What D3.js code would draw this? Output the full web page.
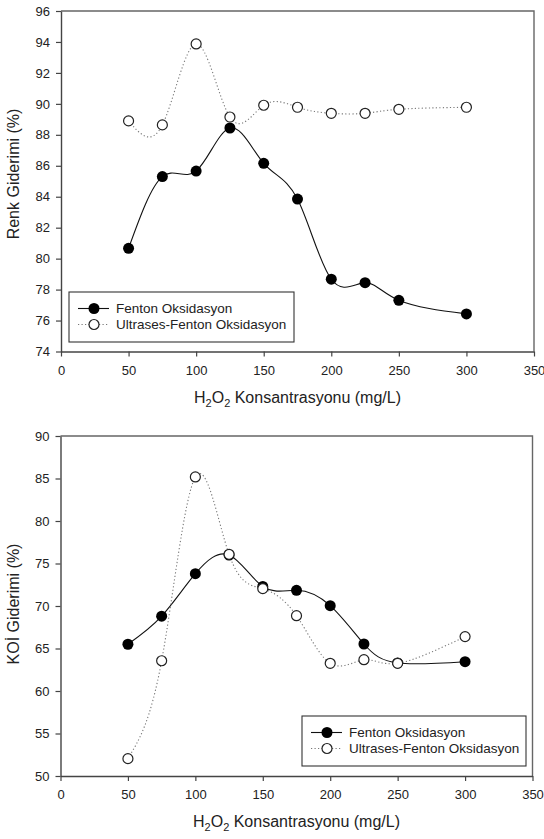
<!DOCTYPE html>
<html>
<head>
<meta charset="utf-8">
<script src="https://cdn.jsdelivr.net/npm/d3@7"></script>
<style>
  html, body { margin: 0; padding: 0; background: #fff; }
  svg { display: block; font-family: "Liberation Sans", Arial, sans-serif; }
</style>
</head>
<body>
<svg id="chart" width="544" height="839"></svg>
<script>
// H2O2 concentrations (mg/L)
const concentrations = [50, 75, 100, 125, 150, 175, 200, 225, 250, 300];

// Renk giderimi (%)
const renkFenton   = [80.67, 85.3, 85.66, 88.44, 86.16, 83.85, 78.67, 78.45, 77.31, 76.43];
const renkUltrases = [88.9, 88.64, 93.87, 89.15, 89.91, 89.78, 89.39, 89.39, 89.65, 89.78];

// KOİ giderimi (%)
const koiFenton   = [65.5, 68.8, 73.8, 76.0, 72.3, 71.85, 70.04, 65.53, 63.3, 63.45];
const koiUltrases = [52.04, 63.56, 85.18, 76.08, 72.04, 68.86, 63.26, 63.68, 63.26, 66.4];

const xTicks = [0, 50, 100, 150, 200, 250, 300, 350];
const renkTicks = d3.range(74, 97, 2);
const koiTicks = d3.range(50, 91, 5);

const seriesNames = ["Fenton Oksidasyon", "Ultrases-Fenton Oksidasyon"];

const svg = d3.select('#chart');

function drawPanel(cfg) {
    const x = d3.scaleLinear().domain([0, 350]).range([cfg.left, cfg.right]);
    const y = d3.scaleLinear().domain(cfg.yDomain).range([cfg.bottom, cfg.top]);
    const g = svg.append('g');

    // frame (top / right)
    g.append('path')
        .attr('d', `M${cfg.left},${cfg.top}H${cfg.right}V${cfg.bottom}`)
        .attr('fill', 'none')
        .attr('stroke', '#666')
        .attr('stroke-width', 1.4);

    // axes
    const xAxis = g.append('g')
        .attr('transform', `translate(0,${cfg.bottom})`)
        .call(d3.axisBottom(x).tickValues(xTicks).tickSize(5).tickPadding(9).tickSizeOuter(0));
    const yAxis = g.append('g')
        .attr('transform', `translate(${cfg.left},0)`)
        .call(d3.axisLeft(y).tickValues(cfg.yTicks).tickSize(5).tickPadding(6).tickSizeOuter(0));
    [xAxis, yAxis].forEach(a => {
        a.select('.domain').attr('stroke', '#444').attr('stroke-width', 1.4);
        a.selectAll('.tick line').attr('stroke', '#444').attr('stroke-width', 1.2);
        a.selectAll('.tick text')
            .attr('fill', '#222')
            .attr('font-size', '13px')
            .attr('font-family', '"Liberation Sans", Arial, sans-serif');
    });

    // axis titles
    const xt = g.append('text')
        .attr('x', (cfg.left + cfg.right) / 2)
        .attr('y', cfg.bottom + 51)
        .attr('text-anchor', 'middle')
        .attr('font-size', '16px')
        .attr('fill', '#222');
    xt.append('tspan').text('H');
    xt.append('tspan').text('2').attr('font-size', '11px').attr('dy', 4);
    xt.append('tspan').text('O').attr('dy', -4);
    xt.append('tspan').text('2').attr('font-size', '11px').attr('dy', 4);
    xt.append('tspan').text(' Konsantrasyonu (mg/L)').attr('dy', -4);

    g.append('text')
        .attr('transform', `translate(${cfg.yTitleX},${cfg.yTitleY}) rotate(-90)`)
        .attr('text-anchor', 'middle')
        .attr('font-size', '16px')
        .attr('fill', '#222')
        .text(cfg.yTitle);

    const line = d3.line()
        .x((d, i) => x(concentrations[i]))
        .y(d => y(d))
        .curve(d3.curveNatural);

    // Fenton: solid line, filled markers
    g.append('path')
        .datum(cfg.fenton)
        .attr('d', line)
        .attr('fill', 'none')
        .attr('stroke', '#111')
        .attr('stroke-width', 1.1);
    // Ultrases: dotted line, open markers
    g.append('path')
        .datum(cfg.ultrases)
        .attr('d', line)
        .attr('fill', 'none')
        .attr('stroke', '#777')
        .attr('stroke-width', 1.1)
        .attr('stroke-dasharray', '1.2,2.3');

    g.append('g').selectAll('circle')
        .data(cfg.fenton)
        .join('circle')
        .attr('cx', (d, i) => x(concentrations[i]))
        .attr('cy', d => y(d))
        .attr('r', 5.5)
        .attr('fill', '#000');
    g.append('g').selectAll('circle')
        .data(cfg.ultrases)
        .join('circle')
        .attr('cx', (d, i) => x(concentrations[i]))
        .attr('cy', d => y(d))
        .attr('r', 5)
        .attr('fill', '#fff')
        .attr('stroke', '#222')
        .attr('stroke-width', 1.2);

    // legend
    const lg = g.append('g').attr('transform', `translate(${cfg.legend[0]},${cfg.legend[1]})`);
    lg.append('rect')
        .attr('width', cfg.legend[2])
        .attr('height', 50)
        .attr('fill', '#fff')
        .attr('stroke', '#333')
        .attr('stroke-width', 1.1);
    seriesNames.forEach((name, i) => {
        const row = lg.append('g').attr('transform', `translate(0,${16.5 + i * 16})`);
        row.append('line')
            .attr('x1', 9).attr('x2', 40)
            .attr('stroke', i === 0 ? '#111' : '#777')
            .attr('stroke-width', 1.1)
            .attr('stroke-dasharray', i === 0 ? null : '1.2,2.3');
        row.append('circle')
            .attr('cx', 25)
            .attr('r', i === 0 ? 5.5 : 5)
            .attr('fill', i === 0 ? '#000' : '#fff')
            .attr('stroke', i === 0 ? null : '#222')
            .attr('stroke-width', 1.2);
        row.append('text')
            .attr('x', 47)
            .attr('dy', '0.35em')
            .attr('font-size', '13.5px')
            .attr('fill', '#222')
            .text(name);
    });
}

drawPanel({
    left: 61, right: 534, top: 11, bottom: 351.5,
    yDomain: [74, 96], yTicks: renkTicks,
    yTitle: 'Renk Giderimi (%)', yTitleX: 19, yTitleY: 174,
    fenton: renkFenton, ultrases: renkUltrases,
    legend: [69, 292, 225]
});

drawPanel({
    left: 60.5, right: 532.5, top: 436, bottom: 776,
    yDomain: [50, 90], yTicks: koiTicks,
    yTitle: 'KOİ Giderimi (%)', yTitleX: 19, yTitleY: 604,
    fenton: koiFenton, ultrases: koiUltrases,
    legend: [302, 716, 224]
});
</script>
</body>
</html>
